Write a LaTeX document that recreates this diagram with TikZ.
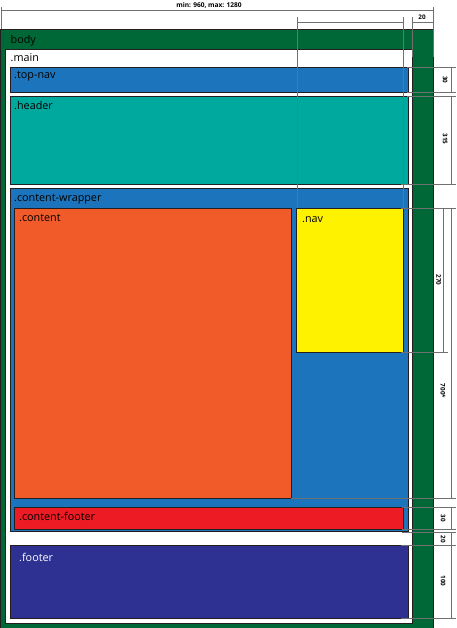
\documentclass[tikz,border=0pt]{standalone}
\usepackage{fontspec}
\setmainfont{Open Sans}
\definecolor{edge}{HTML}{231F20}
\definecolor{dimgray}{HTML}{707070}
\definecolor{bodygreen}{HTML}{006837}
\definecolor{wrapblue}{HTML}{1C75BC}
\definecolor{teal}{HTML}{00A99D}
\definecolor{orangec}{HTML}{F15A29}
\definecolor{yellowc}{HTML}{FFF200}
\definecolor{redc}{HTML}{ED1C24}
\definecolor{navyc}{HTML}{2E3192}
\begin{document}
\begin{tikzpicture}[x=1pt,y=-1pt,
  box/.style={draw=edge, line width=0.9pt, anchor=north west, inner sep=0pt, outer sep=0pt},
  lbl/.style={anchor=base west, inner sep=0pt, font=\fontsize{10.8}{12}\selectfont},
  dim/.style={draw=dimgray, line width=0.7pt},
  dimlbl/.style={font=\fontsize{6.3}{7}\selectfont\bfseries, rotate=-90, inner sep=0pt}]
\useasboundingbox (0,0) rectangle (456,628);
% boxes
\node[box, fill=bodygreen, minimum width=432.5pt, minimum height=603pt] (body) at (0.5,29) {};
\node[box, fill=white, minimum width=407pt, minimum height=574pt] (main) at (5,49) {};
\node[box, fill=wrapblue, minimum width=398pt, minimum height=25pt] (topnav) at (10,67) {};
\node[box, fill=teal, minimum width=398pt, minimum height=88pt] (header) at (10,96) {};
\node[box, fill=wrapblue, minimum width=398pt, minimum height=343pt] (wrapper) at (10,188) {};
\node[box, fill=orangec, minimum width=277pt, minimum height=290pt] (content) at (14,208) {};
\node[box, fill=yellowc, minimum width=107pt, minimum height=144pt] (nav) at (296,208) {};
\node[box, fill=redc, minimum width=389pt, minimum height=22pt] (cfooter) at (14,507) {};
\node[box, fill=navyc, minimum width=398pt, minimum height=73pt] (footer) at (10,545) {};
% labels
\node[lbl] (tbody) at (10.5,43.5) {body};
\node[lbl] (tmain) at (10.5,61.5) {.main};
\node[lbl] (ttopnav) at (14,79) {.top-nav};
\node[lbl] (theader) at (14,110) {.header};
\node[lbl] (twrapper) at (14,202) {.content-wrapper};
\node[lbl] (tcontent) at (19,222) {.content};
\node[lbl] (tnav) at (302,222.5) {.nav};
\node[lbl] (tcfooter) at (19,520.5) {.content-footer};
\node[lbl, text=white] (tfooter) at (19,561) {.footer};
% top dimensions
\draw[dim] (1,7) -- (1,29);
\draw[dim] (1,10.5) -- (433,10.5);
\draw[dim] (433,7) -- (433,57);
\draw[dim] (412,17) -- (412,57);
\draw[dim] (412,22) -- (433,22);
\draw[dim] (297,17) -- (297,208);
\draw[dim] (403,17) -- (403,208);
\draw[dim] (297,22) -- (403,22);
\node[inner sep=0pt, anchor=base, font=\fontsize{6.6}{7}\selectfont\bfseries] (tminmax) at (209,7.5) {min: 960, max: 1280};
\node[inner sep=0pt, anchor=base, font=\fontsize{6.3}{7}\selectfont\bfseries] (t20top) at (422,19.5) {20};
% right dimensions
\foreach \yy/\xa/\xb in {67/407/456, 92/407/456, 96/407/456, 184/401/456, 208/401/456, 352/401/448, 498/291/456, 507/402/456, 529/402/456, 532/402/456, 545/401/456, 618/401/456}
  \draw[dim] (\xa,\yy) -- (\xb,\yy);
\foreach \ya/\yb in {67/92, 96/184, 208/498, 507/529, 532/545, 545/618}
  \draw[dim] (451,\ya) -- (451,\yb);
\draw[dim] (443,208) -- (443,352);
\node[dimlbl] (d30a) at (445,80) {30};
\node[dimlbl] (d315) at (445,139) {315};
\node[dimlbl] (d270) at (438.5,280) {270};
\node[dimlbl] (d700) at (443,391) {700*};
\node[dimlbl] (d30b) at (443,518) {30};
\node[dimlbl] (d20) at (443,539) {20};
\node[dimlbl] (d100) at (443,581) {100};
\end{tikzpicture}
\end{document}
